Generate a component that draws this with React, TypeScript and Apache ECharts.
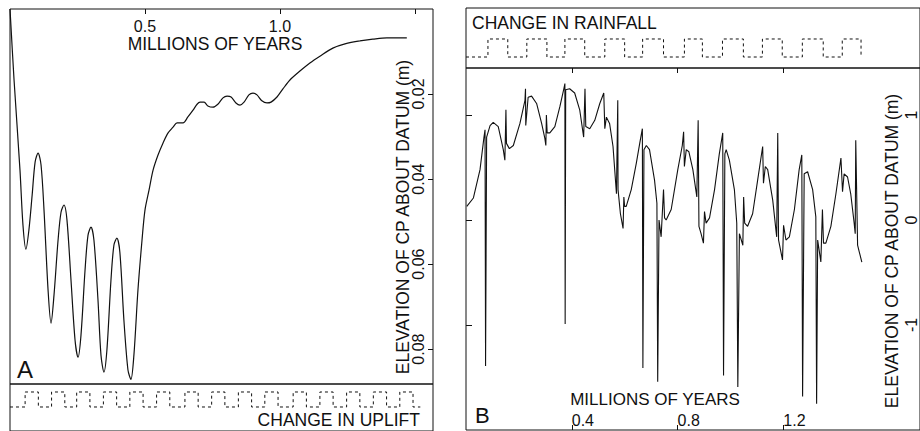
import React, { useEffect, useRef } from 'react';
import * as echarts from 'echarts';

const FONT = '"Liberation Sans", Arial, Helvetica, sans-serif';
const INK = '#111';

// Panel A: elevation of CP (m, positive downward) vs time (Myr)
const aTime = [0, 0.015, 0.037, 0.048, 0.059, 0.070, 0.082, 0.093, 0.104, 0.115, 0.126, 0.141, 0.152, 0.163, 0.178, 0.189, 0.2, 0.211, 0.226, 0.241, 0.252, 0.263, 0.278, 0.289, 0.3, 0.311, 0.326, 0.337, 0.348, 0.359, 0.374, 0.385, 0.396, 0.407, 0.422, 0.437, 0.448, 0.459, 0.474, 0.489, 0.5, 0.515, 0.530, 0.548, 0.567, 0.585, 0.604, 0.619, 0.641, 0.659, 0.678, 0.693, 0.704, 0.719, 0.733, 0.752, 0.770, 0.789, 0.804, 0.819, 0.837, 0.852, 0.867, 0.885, 0.9, 0.915, 0.933, 0.952, 0.967, 0.989, 1.011, 1.037, 1.074, 1.111, 1.148, 1.196, 1.241, 1.296, 1.344, 1.396, 1.470];
const aElev = [0, 0.0167, 0.0379, 0.0508, 0.0565, 0.0520, 0.0438, 0.0360, 0.0339, 0.0367, 0.0473, 0.0661, 0.0739, 0.0673, 0.0544, 0.0478, 0.0461, 0.0496, 0.0638, 0.0779, 0.0819, 0.0767, 0.0614, 0.0532, 0.0513, 0.0544, 0.0685, 0.0814, 0.0854, 0.0802, 0.0638, 0.0555, 0.0539, 0.0572, 0.0732, 0.0849, 0.0871, 0.0814, 0.0661, 0.0544, 0.0473, 0.0426, 0.0379, 0.0344, 0.0315, 0.0292, 0.0278, 0.0268, 0.0268, 0.0254, 0.0238, 0.0224, 0.0219, 0.0219, 0.0228, 0.0231, 0.0224, 0.0209, 0.0205, 0.0207, 0.0221, 0.0226, 0.0219, 0.0202, 0.0198, 0.0202, 0.0216, 0.0221, 0.0219, 0.0207, 0.0188, 0.0167, 0.0146, 0.0127, 0.0111, 0.0092, 0.0082, 0.0075, 0.0071, 0.0068, 0.0068];

// Panel A: change in uplift (square wave) - switch times (Myr) and levels
const upliftTime = [0, 0.056, 0.105, 0.154, 0.203, 0.247, 0.296, 0.346, 0.395, 0.444, 0.493, 0.543, 0.592, 0.648, 0.697, 0.747, 0.796, 0.846, 0.895, 0.944, 0.993, 1.049, 1.098, 1.148, 1.197, 1.247, 1.296, 1.346, 1.395, 1.444, 1.493, 1.52];
const upliftLevel = [0, 1, 0, 1, 0, 1, 0, 1, 0, 1, 0, 1, 0, 1, 0, 1, 0, 1, 0, 1, 0, 1, 0, 1, 0, 1, 0, 1, 0, 1, 0, 0];

// Panel B: elevation of CP (m) vs time (Myr)
const bTime = [0.003, 0.028, 0.053, 0.068, 0.072, 0.074, 0.078, 0.091, 0.103, 0.122, 0.141, 0.147, 0.151, 0.153, 0.164, 0.179, 0.204, 0.223, 0.225, 0.226, 0.235, 0.248, 0.267, 0.286, 0.298, 0.302, 0.304, 0.307, 0.317, 0.336, 0.355, 0.370, 0.374, 0.375, 0.377, 0.392, 0.411, 0.430, 0.445, 0.450, 0.453, 0.468, 0.487, 0.506, 0.521, 0.525, 0.531, 0.543, 0.556, 0.569, 0.574, 0.575, 0.584, 0.594, 0.597, 0.600, 0.606, 0.625, 0.644, 0.657, 0.667, 0.669, 0.673, 0.682, 0.694, 0.713, 0.722, 0.725, 0.730, 0.738, 0.747, 0.751, 0.757, 0.776, 0.801, 0.818, 0.823, 0.826, 0.833, 0.843, 0.858, 0.873, 0.878, 0.881, 0.889, 0.898, 0.902, 0.908, 0.921, 0.940, 0.958, 0.971, 0.974, 0.979, 0.984, 0.996, 1.015, 1.024, 1.028, 1.034, 1.047, 1.050, 1.054, 1.065, 1.084, 1.103, 1.122, 1.125, 1.132, 1.141, 1.160, 1.175, 1.179, 1.182, 1.197, 1.201, 1.210, 1.223, 1.242, 1.260, 1.270, 1.273, 1.279, 1.292, 1.311, 1.323, 1.326, 1.330, 1.342, 1.348, 1.352, 1.361, 1.380, 1.399, 1.418, 1.424, 1.430, 1.443, 1.455, 1.468, 1.472, 1.474, 1.481, 1.487, 1.497];
const bElev = [0.13, 0.21, 0.48, 0.79, 0.86, -1.39, 0.79, 0.90, 0.93, 0.89, 0.67, 0.57, 1.05, 0.73, 0.68, 0.71, 0.92, 1.14, 1.25, 0.90, 1.17, 1.18, 1.11, 0.92, 0.78, 0.71, 1.00, 0.83, 0.83, 0.89, 1.08, 1.25, 1.30, -0.99, 1.24, 1.25, 1.21, 1.05, 0.79, 1.25, 0.89, 0.87, 0.95, 1.11, 1.21, 0.87, 0.98, 0.92, 0.70, 0.25, 1.14, 0.29, 0.06, -0.08, 0.22, 0.13, 0.13, 0.29, 0.54, 0.73, 0.87, -1.41, 0.67, 0.71, 0.67, 0.38, 0.16, -1.54, 0, -0.16, 0.29, 0.02, 0, 0.10, 0.48, 0.71, 0.84, 0.51, 0.67, 0.65, 0.48, 0.22, 0.95, -0.06, -0.13, -0.22, 0.08, -0.03, 0.02, 0.29, 0.63, 0.83, -1.48, 0.63, 0.67, 0.57, 0.29, -0.03, -1.59, -0.13, -0.24, 0.22, -0.03, -0.06, 0.06, 0.38, 0.70, 0.35, 0.51, 0.48, 0.19, -0.16, 0.83, -0.19, -0.38, -0.05, -0.19, -0.16, 0.10, 0.48, 0.62, -1.68, 0.44, 0.46, 0.29, 0.03, -1.75, -0.19, -0.40, 0.10, -0.22, -0.22, -0.06, 0.25, 0.59, 0.27, 0.44, 0.41, 0.25, -0.03, -0.13, 0.76, -0.24, -0.30, -0.40];

// Panel B: change in rainfall (square wave)
const rainTime = [0, 0.083, 0.158, 0.230, 0.306, 0.374, 0.449, 0.525, 0.600, 0.668, 0.747, 0.826, 0.894, 0.970, 1.049, 1.121, 1.196, 1.272, 1.351, 1.423, 1.494];
const rainLevel = [0, 1, 0, 1, 0, 1, 0, 1, 0, 1, 0, 1, 0, 1, 0, 1, 0, 1, 0, 1, 0];

// Tick values
const aTimeTicks = [0.5, 1.0, 1.5];
const aTimeLabels = [0.5, 1.0];
const aElevTicks = [0.02, 0.04, 0.06, 0.08];
const bTimeTicks = [0.4, 0.8, 1.2];
const bElevTicks = [-1, 0, 1];

const zip = (xs: number[], ys: number[]) => xs.map((x, i) => [x, ys[i]]);

export default function App() {
  const ref = useRef<HTMLDivElement>(null);
  useEffect(() => {
    const chart = echarts.init(ref.current!, null, { renderer: 'svg' });
    const tickStyle = { color: INK, width: 1 };
    const noLine = { show: false, onZero: false };
    const labelBase = { color: INK, fontFamily: FONT, fontSize: 16 };
    const txt = (text: string, x: number, y: number, opts: any = {}) => ({
      type: 'text',
      x,
      y,
      rotation: opts.rotation || 0,
      style: {
        text,
        fill: INK,
        font: `${opts.size || 17.5}px ${FONT}`,
        textAlign: opts.align || 'center',
        textVerticalAlign: 'middle',
      },
    });
    const BMAX = 1.717;
    const option: any = {
      animation: false,
      backgroundColor: '#fff',
      textStyle: { fontFamily: FONT },
      grid: [
        { left: 10, top: 9, width: 423, height: 375, show: true, borderColor: INK, borderWidth: 1 },
        { left: 10, top: 384, width: 423, height: 47, show: true, borderColor: INK, borderWidth: 1 },
        { left: 466, top: 8, width: 455, height: 60, show: true, borderColor: INK, borderWidth: 1 },
        { left: 466, top: 68, width: 455, height: 362, show: true, borderColor: INK, borderWidth: 1 },
      ],
      xAxis: [
        {
          gridIndex: 0, type: 'value', position: 'top', min: 0, max: 1.567, interval: 0.5,
          axisLine: noLine, splitLine: { show: false },
          axisTick: { inside: true, length: 5, lineStyle: tickStyle, customValues: aTimeTicks },
          axisLabel: { ...labelBase, inside: true, margin: 9, customValues: aTimeLabels, formatter: (v: number) => v.toFixed(1) },
        },
        { gridIndex: 1, type: 'value', min: 0, max: 1.567, show: false, axisLine: noLine },
        { gridIndex: 2, type: 'value', min: 0, max: BMAX, show: false, axisLine: noLine },
        {
          gridIndex: 3, type: 'value', position: 'top', min: 0, max: BMAX, interval: 0.4,
          axisLine: noLine, splitLine: { show: false },
          axisTick: { inside: true, length: 5, lineStyle: tickStyle, customValues: bTimeTicks },
          axisLabel: { show: false },
        },
        {
          gridIndex: 3, type: 'value', position: 'bottom', min: 0, max: BMAX, interval: 0.4,
          axisLine: noLine, splitLine: { show: false },
          axisTick: { inside: true, length: 5, lineStyle: tickStyle, customValues: bTimeTicks },
          axisLabel: { ...labelBase, inside: true, margin: 2, align: 'left', customValues: bTimeTicks, formatter: (v: number) => v.toFixed(1) },
        },
      ],
      yAxis: [
        {
          gridIndex: 0, type: 'value', position: 'right', inverse: true, min: 0, max: 0.0882, interval: 0.02,
          axisLine: noLine, splitLine: { show: false },
          axisTick: { inside: true, length: 5, lineStyle: tickStyle, customValues: aElevTicks },
          axisLabel: { ...labelBase, inside: true, rotate: 90, margin: 6.5, customValues: aElevTicks, formatter: (v: number) => v.toFixed(2) },
        },
        { gridIndex: 1, type: 'value', min: -1.6, max: 1.533, show: false, axisLine: noLine },
        { gridIndex: 2, type: 'value', min: -0.61, max: 2.72, show: false, axisLine: noLine },
        {
          gridIndex: 3, type: 'value', position: 'left', min: -2, max: 1.448, interval: 1,
          axisLine: noLine, splitLine: { show: false },
          axisTick: { inside: true, length: 6, lineStyle: tickStyle, customValues: bElevTicks },
          axisLabel: { show: false },
        },
        {
          gridIndex: 3, type: 'value', position: 'right', min: -2, max: 1.448, interval: 1,
          axisLine: noLine, splitLine: { show: false }, axisTick: { show: false },
          axisLabel: { ...labelBase, inside: true, rotate: 90, margin: 1, customValues: bElevTicks, formatter: (v: number) => String(v) },
        },
      ],
      series: [
        {
          type: 'line', xAxisIndex: 0, yAxisIndex: 0, data: zip(aTime, aElev), showSymbol: false, smooth: 0.3,
          lineStyle: { color: INK, width: 1.2 },
        },
        {
          type: 'line', xAxisIndex: 1, yAxisIndex: 1, data: zip(upliftTime, upliftLevel), showSymbol: false, step: 'end',
          lineStyle: { color: INK, width: 1, type: [3, 3] },
        },
        {
          type: 'line', xAxisIndex: 2, yAxisIndex: 2, data: zip(rainTime, rainLevel), showSymbol: false, step: 'end',
          lineStyle: { color: INK, width: 1, type: [3, 3] },
        },
        {
          type: 'line', xAxisIndex: 3, yAxisIndex: 3, data: zip(bTime, bElev), showSymbol: false, smooth: false,
          lineStyle: { color: INK, width: 1.1 },
        },
      ],
      graphic: [
        txt('MILLIONS OF YEARS', 215, 44),
        txt('CHANGE IN UPLIFT', 420, 420, { align: 'right' }),
        txt('A', 17, 369, { align: 'left', size: 24 }),
        txt('ELEVATION OF CP ABOUT DATUM (m)', 403, 217, { rotation: Math.PI / 2 }),
        txt('CHANGE IN RAINFALL', 472, 23, { align: 'left' }),
        txt('MILLIONS OF YEARS', 655, 399, { size: 17 }),
        txt('B', 475, 415, { align: 'left', size: 22 }),
        txt('ELEVATION OF CP ABOUT DATUM (m)', 892, 251, { rotation: Math.PI / 2 }),
      ],
    };
    chart.setOption(option);
    return () => chart.dispose();
  }, []);
  return (
    <div
      ref={ref}
      style={{ position: 'fixed', left: 0, top: 0, width: 920, height: 431, background: '#fff' }}
    />
  );
}
